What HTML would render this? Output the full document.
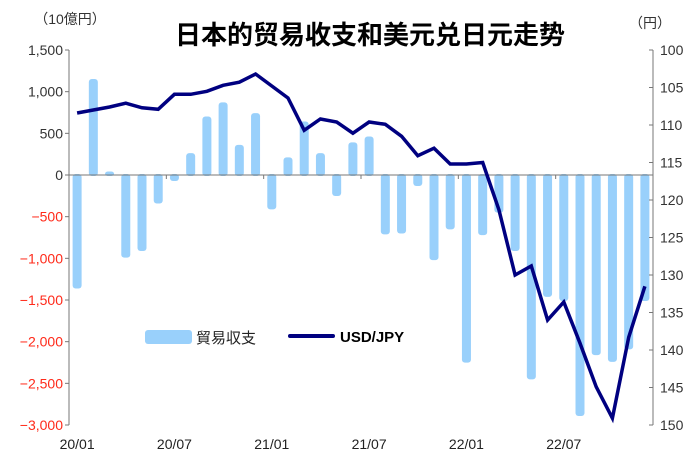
<!DOCTYPE html>
<html><head><meta charset="utf-8"><style>
body{margin:0;background:#fff;}
svg text{font-family:"Liberation Sans","Noto Sans CJK JP",sans-serif;}
</style></head><body>
<svg width="700" height="461" viewBox="0 0 700 461">
<text x="370" y="44" text-anchor="middle" font-size="26" font-weight="bold" font-family="'Liberation Sans','Noto Sans CJK SC',sans-serif">日本的贸易收支和美元兑日元走势</text>
<text x="70" y="24" text-anchor="middle" font-size="14" fill="#333">（10億円）</text>
<text x="650" y="28" text-anchor="middle" font-size="14" fill="#333">（円）</text>
<g id="plot"></g>
<g>
<rect x="145" y="330" width="47" height="14" rx="3" fill="#99d0fb"/>
<text x="196" y="343" font-size="15" fill="#222">貿易収支</text>
<line x1="290" y1="336" x2="333" y2="336" stroke="#000080" stroke-width="4" stroke-linecap="round"/>
<text x="340" y="342" font-size="15" font-weight="bold" fill="#000">USD/JPY</text>
</g>
</svg>
<script>
const categories=["20/01","20/02","20/03","20/04","20/05","20/06","20/07","20/08","20/09","20/10","20/11","20/12","21/01","21/02","21/03","21/04","21/05","21/06","21/07","21/08","21/09","21/10","21/11","21/12","22/01","22/02","22/03","22/04","22/05","22/06","22/07","22/08","22/09","22/10","22/11","22/12"];
const tradeBalance=[-1350,1140,30,-980,-900,-330,-60,250,690,860,350,730,-400,200,630,250,-240,380,450,-700,-690,-120,-1010,-640,-2240,-710,-440,-900,-2440,-1450,-1500,-2880,-2150,-2230,-2080,-1500];
const usdjpy=[108.4,108.0,107.6,107.1,107.7,107.9,105.9,105.9,105.5,104.7,104.3,103.2,104.8,106.4,110.7,109.2,109.6,111.1,109.6,109.9,111.5,114.1,113.1,115.2,115.2,115.0,121.3,130.0,128.8,136.0,133.6,139.1,144.9,149.1,138.3,131.5];
const leftTicks=[1500,1000,500,0,-500,-1000,-1500,-2000,-2500,-3000];
const leftTickLabels=["1,500","1,000","500","0","-500","-1,000","-1,500","-2,000","-2,500","-3,000"];
const rightTicks=[100,105,110,115,120,125,130,135,140,145,150];
const xLabelIdx=[0,6,12,18,24,30];

const NS="http://www.w3.org/2000/svg";
const g=document.getElementById('plot');
const X0=69,X1=653,TOP=50,BOT=425;
const bw=(X1-X0)/categories.length;
const xc=i=>X0+(i+0.5)*bw;
const yL=v=>TOP+(1500-v)/4500*(BOT-TOP);
const yR=v=>TOP+(v-100)/50*(BOT-TOP);
function mk(tag,attrs){const e=document.createElementNS(NS,tag);for(const k in attrs)e.setAttribute(k,attrs[k]);g.appendChild(e);return e;}

// bars
tradeBalance.forEach((v,i)=>{
 const y0=yL(0),y1=yL(v);
 const r=mk('rect',{x:xc(i)-4.5,y:Math.min(y0,y1)-1,width:9,height:Math.abs(y1-y0)+2,rx:3,fill:'#99d0fb'});
 
 
});
// zero line
const z=mk('line',{x1:X0,y1:yL(0),x2:X1,y2:yL(0),stroke:'#777','stroke-width':1});


// x ticks on zero line
for(let i=6;i<categories.length;i+=6){
 const t=mk('line',{x1:X0+i*bw,y1:yL(0),x2:X0+i*bw,y2:yL(0)+4,stroke:'#777'});
 
 
}
// left axis
const la=mk('line',{x1:X0,y1:TOP,x2:X0,y2:BOT,stroke:'#777'});


leftTicks.forEach((v,i)=>{
 const t=mk('line',{x1:X0-4,y1:yL(v),x2:X0,y2:yL(v),stroke:'#777'});
 
 
 const tx=mk('text',{x:X0-6,y:yL(v)+5,'text-anchor':'end','font-size':14,fill:v<0?'#ff2a1a':'#333'});
 tx.textContent=leftTickLabels[i].replace('-','\u2212');
 
 
});
// right axis
const ra=mk('line',{x1:X1,y1:TOP,x2:X1,y2:BOT,stroke:'#777'});


rightTicks.forEach(v=>{
 const t=mk('line',{x1:X1-4,y1:yR(v),x2:X1,y2:yR(v),stroke:'#777'});
 
 
 const tx=mk('text',{x:X1+7,y:yR(v)+5,'font-size':14,fill:'#333'});
 tx.textContent=v;
 
 
});
// x labels
xLabelIdx.forEach(i=>{
 const tx=mk('text',{x:xc(i),y:449,'text-anchor':'middle','font-size':14,fill:'#222'});
 tx.textContent=categories[i];
 
 
});
// line
const pts=usdjpy.map((v,i)=>xc(i).toFixed(1)+','+yR(v).toFixed(1)).join(' ');
const pl=mk('polyline',{points:pts,fill:'none',stroke:'#000080','stroke-width':3.5,'stroke-linejoin':'miter'});


</script>
</body></html>
